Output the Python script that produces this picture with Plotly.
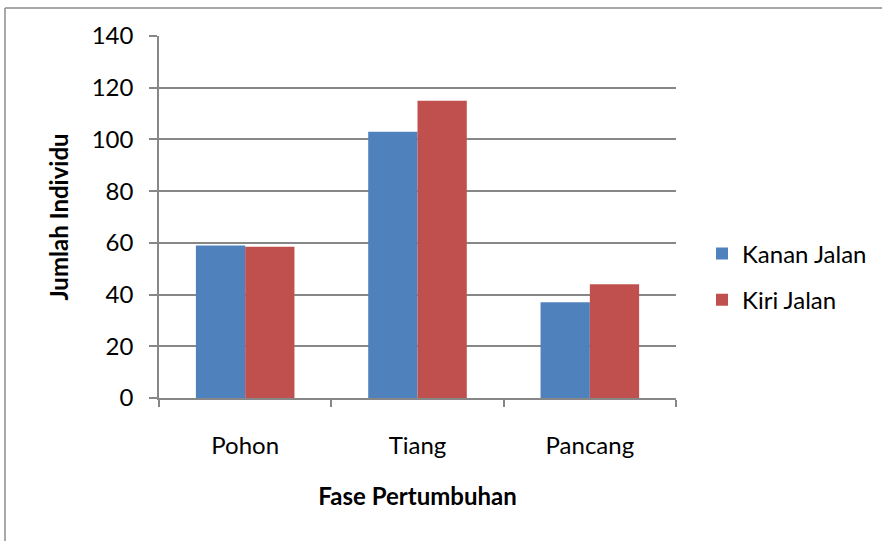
import plotly.graph_objects as go

# Growth phases and counts of individuals on each side of the road
phases = ["Pohon", "Tiang", "Pancang"]
kanan_jalan = [59, 103, 37]
kiri_jalan = [58.5, 115, 44]
y_ticks = [0, 20, 40, 60, 80, 100, 120, 140]

W, H = 882, 541
ML, MR, MT, MB = 159, 206, 36, 143
PW, PH = W - ML - MR, H - MT - MB

FONT = "Lato"
FS = 24
GRID = "#878787"


def px_x(p):
    return (p - ML) / PW


def px_y(p):
    return (H - MB - p) / PH


fig = go.Figure()
fig.add_trace(go.Bar(name="Kanan Jalan", x=phases, y=kanan_jalan,
                     marker=dict(color="#4F81BD", line=dict(width=0)),
                     legendgroup="a"))
fig.add_trace(go.Bar(name="Kiri Jalan", x=phases, y=kiri_jalan,
                     marker=dict(color="#C0504D", line=dict(width=0)),
                     legendgroup="b"))

fig.update_layout(
    width=W, height=H,
    margin=dict(l=ML, r=MR, t=MT, b=MB, pad=0),
    paper_bgcolor="white", plot_bgcolor="white",
    barmode="group", bargap=0.428, bargroupgap=0,
    font=dict(family=FONT, size=FS, color="black"),
    showlegend=True,
    legend=dict(x=702 / W, y=1 - 277 / H, xanchor="left", yanchor="middle",
                xref="container", yref="container",
                font=dict(family=FONT, size=FS, color="black"),
                tracegroupgap=12, bgcolor="rgba(0,0,0,0)"),
    xaxis=dict(
        type="category", tickson="boundaries", ticks="outside", ticklen=7,
        tickcolor=GRID, tickwidth=1.5, automargin=False,
        showline=True, linecolor=GRID, linewidth=1.5,
        showgrid=False, ticklabelstandoff=25,
        title=dict(text="<b>Fase Pertumbuhan</b>", standoff=31,
                   font=dict(family=FONT, size=FS, color="black")),
    ),
    yaxis=dict(
        range=[0, 140], tickvals=y_ticks, ticks="outside", ticklen=8,
        tickcolor=GRID, tickwidth=1.5, automargin=False,
        showline=True, linecolor=GRID, linewidth=1.5,
        showgrid=True, gridcolor=GRID, gridwidth=1.5, zeroline=False,
        ticklabelstandoff=11,
        title=dict(text="<b>Jumlah Individu</b>", standoff=16,
                   font=dict(family=FONT, size=FS, color="black")),
    ),
    shapes=[
        dict(type="line", xref="paper", yref="paper",
             x0=px_x(5), x1=px_x(5), y0=px_y(8), y1=px_y(560),
             line=dict(color="#8c8c8c", width=1.5)),
        dict(type="line", xref="paper", yref="paper",
             x0=px_x(5), x1=px_x(900), y0=px_y(8), y1=px_y(8),
             line=dict(color="#8c8c8c", width=1.5)),
    ],
)

fig.write_html("out.html")
